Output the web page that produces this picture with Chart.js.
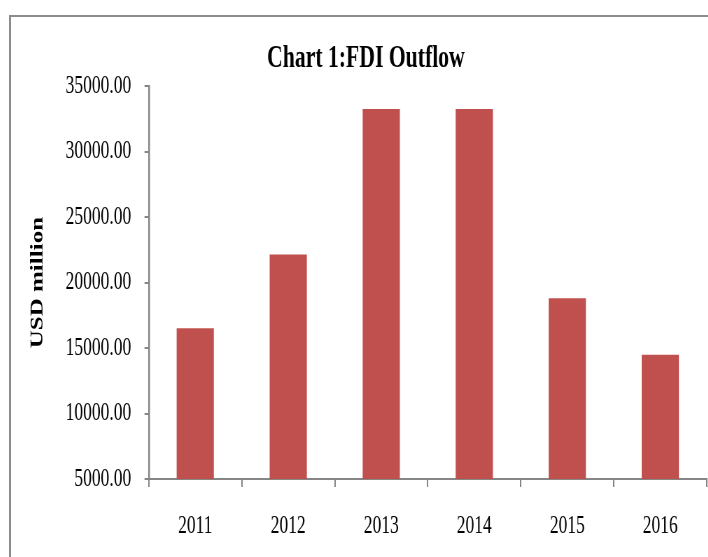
<!DOCTYPE html>
<html>
<head>
<meta charset="utf-8">
<title>Chart 1:FDI Outflow</title>
<script src="https://cdn.jsdelivr.net/npm/chart.js"></script>
<style>
  html, body { margin: 0; padding: 0; background: #fff; overflow: hidden; width: 708px; height: 557px; }
  #frame { position: absolute; left: 9px; top: 15px; width: 697px; height: 540px; overflow: hidden;
           border-top: 2px solid #8c8c8c; border-left: 2px solid #8c8c8c; }
  /* the reference is squeezed sideways, so draw wide and squeeze */
  #grafikoa { position: absolute; left: 0; top: 0; width: 1020px; height: 540px; transform: scaleX(0.7); transform-origin: 0 0; }
</style>
</head>
<body>
<div id="frame"><canvas id="grafikoa" width="1020" height="540"></canvas></div>
<script>
const years = ['2011', '2012', '2013', '2014', '2015', '2016'];
const outflow = [16520, 22150, 33250, 33250, 18800, 14490];
const yTickValues = [5000, 10000, 15000, 20000, 25000, 30000, 35000];

const serif = 'Liberation Serif, Times New Roman, serif';
const axisGray = '#868686';

const data = {
  labels: years,
  datasets: [
    {
      label: 'FDI Outflow',
      data: outflow,
      backgroundColor: '#C0504D',
      borderWidth: 0,
      barPercentage: 0.5,
      categoryPercentage: 0.8,
    }
  ]
};

const config = {
  type: 'bar',
  data: data,
  options: {
    responsive: false,
    devicePixelRatio: 1,
    animation: false,
    layout: {
      padding: { left: 20, right: 26, top: 0, bottom: -8 }
    },
    plugins: {
      legend: { display: false },
      tooltip: { enabled: false },
      title: {
        display: true,
        text: 'Chart 1:FDI Outflow',
        color: '#000',
        font: { family: serif, size: 31, weight: 'bold' },
        padding: { top: 23, bottom: 9 }
      }
    },
    scales: {
      x: {
        grid: {
          drawOnChartArea: false,
          tickLength: 8,
          color: axisGray,
          lineWidth: 2
        },
        border: { color: axisGray, width: 2 },
        ticks: {
          color: '#000',
          font: { family: serif, size: 25 },
          padding: 24
        }
      },
      y: {
        min: yTickValues[0],
        max: yTickValues[yTickValues.length - 1],
        afterBuildTicks: (scale) => {
          scale.ticks = yTickValues.map(v => ({ value: v }));
        },
        grid: {
          drawOnChartArea: false,
          tickLength: 6,
          color: axisGray,
          lineWidth: 2
        },
        border: { color: axisGray, width: 2.5 },
        ticks: {
          color: '#000',
          font: { family: serif, size: 25 },
          padding: 19,
          callback: (v) => Number(v).toFixed(2)
        },
        title: {
          display: true,
          text: 'USD million',
          color: '#000',
          font: { family: serif, size: 25, weight: 'bold' },
          padding: { top: 4, bottom: 5 }
        }
      }
    }
  }
};

const ctx = document.getElementById('grafikoa').getContext('2d');
new Chart(ctx, config);
</script>
</body>
</html>
